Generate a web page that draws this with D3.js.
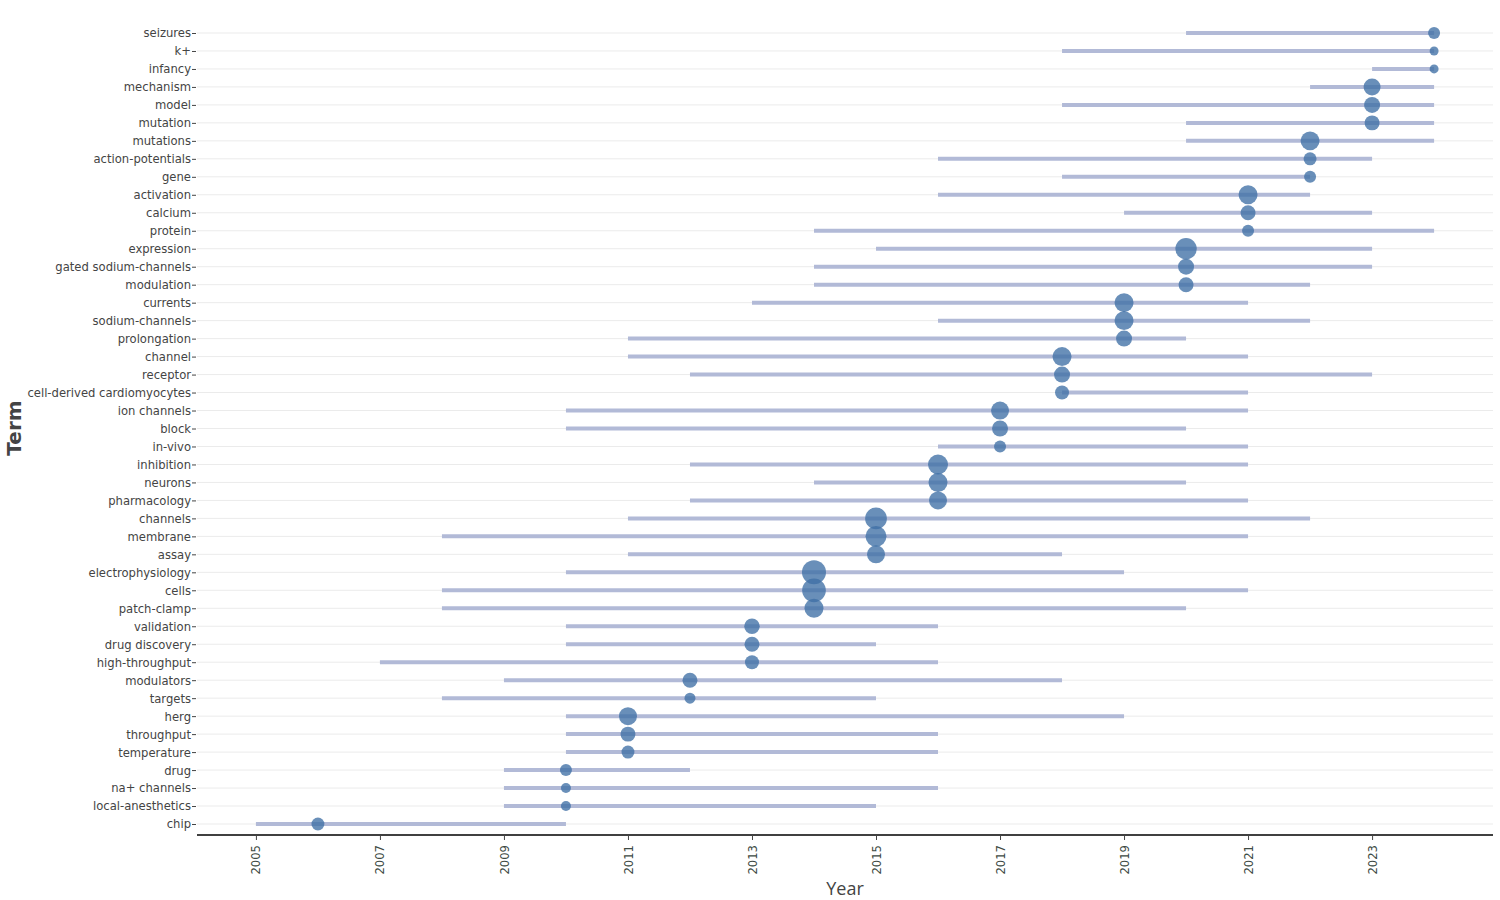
<!DOCTYPE html>
<html>
<head>
<meta charset="utf-8">
<script src="https://cdn.jsdelivr.net/npm/d3@7"></script>
<style>
  html, body { margin: 0; padding: 0; background: #fff; }
  svg { display: block; font-family: "DejaVu Sans", "Open Sans", sans-serif; }
</style>
</head>
<body>
<svg id="chart" width="1500" height="900"></svg>
<script>
// ---- Data (top to bottom) ----
const terms = ["seizures","k+","infancy","mechanism","model","mutation","mutations","action-potentials","gene","activation","calcium","protein","expression","gated sodium-channels","modulation","currents","sodium-channels","prolongation","channel","receptor","cell-derived cardiomyocytes","ion channels","block","in-vivo","inhibition","neurons","pharmacology","channels","membrane","assay","electrophysiology","cells","patch-clamp","validation","drug discovery","high-throughput","modulators","targets","herg","throughput","temperature","drug","na+ channels","local-anesthetics","chip"];
const startYears = [2020,2018,2023,2022,2018,2020,2020,2016,2018,2016,2019,2014,2015,2014,2014,2013,2016,2011,2011,2012,2018,2010,2010,2016,2012,2014,2012,2011,2008,2011,2010,2008,2008,2010,2010,2007,2009,2008,2010,2010,2010,2009,2009,2009,2005];
const endYears   = [2024,2024,2024,2024,2024,2024,2024,2023,2022,2022,2023,2024,2023,2023,2022,2021,2022,2020,2021,2023,2021,2021,2020,2021,2021,2020,2021,2022,2021,2018,2019,2021,2020,2016,2015,2016,2018,2015,2019,2016,2016,2012,2016,2015,2010];
const peakYears  = [2024,2024,2024,2023,2023,2023,2022,2022,2022,2021,2021,2021,2020,2020,2020,2019,2019,2019,2018,2018,2018,2017,2017,2017,2016,2016,2016,2015,2015,2015,2014,2014,2014,2013,2013,2013,2012,2012,2011,2011,2011,2010,2010,2010,2006];
const freqs      = [36,20,20,72,64,56,90,42,36,90,56,36,115,64,56,90,90,64,90,64,49,81,64,36,100,90,81,118,110,81,144,140,90,60,56,49,56,30,81,56,42,36,25,25,42];
const xTicks = [2005,2007,2009,2011,2013,2015,2017,2019,2021,2023];

// ---- Layout ----
const left = 197, right = 1493, axisY = 835;
const svg = d3.select("#chart");
const tickFont = "'DejaVu Sans', sans-serif";

const x = d3.scaleLinear().domain([2004.05, 2024.95]).range([left, right]);
const y = d3.scalePoint().domain(terms).range([33, 824]);
const r = d3.scaleSqrt().domain([0, 144]).range([0, 12]);

const rows = terms.map((t, i) => ({term: t, start: startYears[i], end: endYears[i], peak: peakYears[i], freq: freqs[i]}));

// gridlines
svg.append("g").selectAll("line").data(terms).join("line")
  .attr("x1", left).attr("x2", right)
  .attr("y1", d => y(d)).attr("y2", d => y(d))
  .attr("stroke", "#ebebeb").attr("stroke-width", 1);

// y axis
const yAxis = svg.append("g").attr("transform", `translate(${left},0)`)
  .call(d3.axisLeft(y).tickSize(5).tickPadding(2));
yAxis.select(".domain").remove();
yAxis.selectAll(".tick line").attr("stroke", "#444").attr("x1", -1).attr("x2", -5);
yAxis.selectAll(".tick text").attr("fill", "#444").attr("font-size", 11.6)
  .attr("font-family", tickFont).attr("x", -6).attr("dy", "0.34em");

// x axis
const xAxis = svg.append("g").attr("transform", `translate(0,${axisY})`)
  .call(d3.axisBottom(x).tickValues(xTicks).tickFormat(d3.format("d")).tickSize(5).tickSizeOuter(0));
xAxis.select(".domain").attr("stroke", "#000").attr("stroke-width", 1.5)
  .attr("d", `M${left},0H${right}`);
xAxis.selectAll(".tick line").attr("stroke", "#444");
xAxis.selectAll(".tick text")
  .attr("fill", "#3d4a44").attr("font-size", 11.6).attr("font-family", tickFont)
  .attr("transform", "rotate(-90)")
  .attr("text-anchor", "end").attr("dy", "0.35em")
  .attr("x", -10).attr("y", 0);

// range lines
svg.append("g").selectAll("line").data(rows).join("line")
  .attr("x1", d => x(d.start)).attr("x2", d => x(d.end))
  .attr("y1", d => y(d.term)).attr("y2", d => y(d.term))
  .attr("stroke", "#b2bad7").attr("stroke-width", 4);

// peak circles
svg.append("g").selectAll("circle").data(rows).join("circle")
  .attr("cx", d => x(d.peak)).attr("cy", d => y(d.term))
  .attr("r", d => r(d.freq))
  .attr("fill", "#3f6fa5").attr("fill-opacity", 0.78);

// axis titles
svg.append("text").attr("x", 845).attr("y", 895)
  .attr("text-anchor", "middle").attr("font-size", 18).attr("fill", "#444")
  .attr("font-family", "'Open Sans', sans-serif")
  .text("Year");
svg.append("text").attr("transform", "translate(21,428) rotate(-90)")
  .attr("text-anchor", "middle").attr("font-size", 20).attr("font-weight", "bold").attr("fill", "#444")
  .attr("font-family", "'DejaVu Sans', sans-serif")
  .text("Term");
</script>
</body>
</html>
